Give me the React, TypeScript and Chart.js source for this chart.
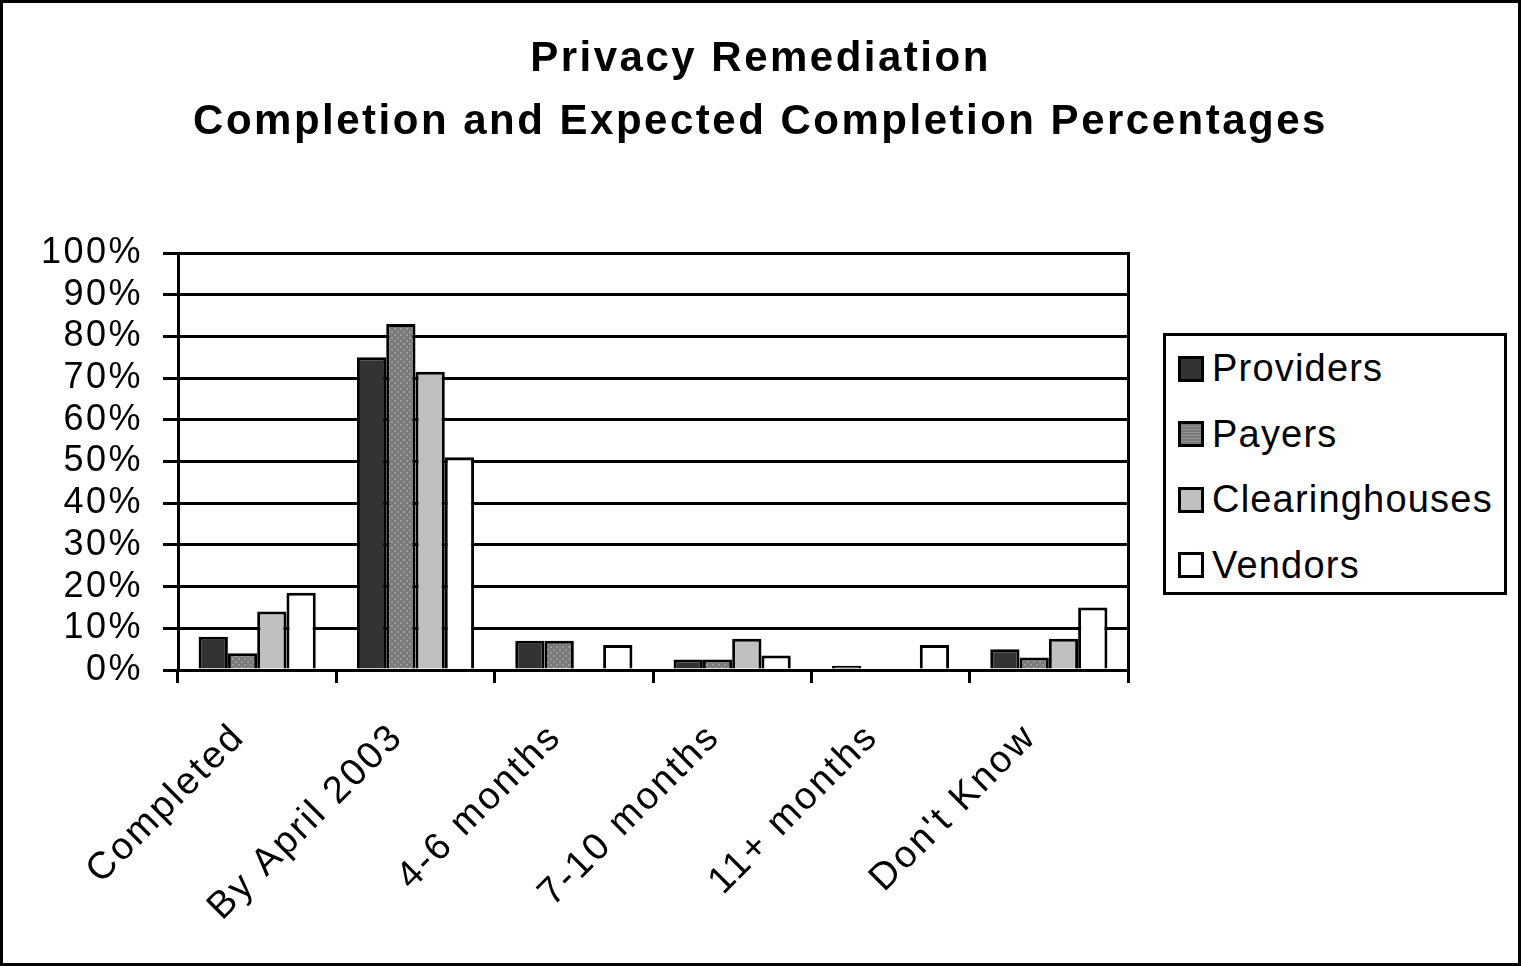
import React, { useEffect, useRef } from "react";
import { Chart, registerables } from "chart.js";

Chart.register(...registerables);

const categories = ["Completed", "By April 2003", "4-6 months", "7-10 months", "11+ months", "Don't Know"];
const providers = [8, 75, 7, 2.5, 1, 5];
const payers = [4, 83, 7, 2.5, 0, 3];
const clearinghouses = [14, 71.5, 0, 7.5, 0, 7.5];
const vendors = [18.5, 51, 6, 3.5, 6, 15];
const seriesNames = ["Providers", "Payers", "Clearinghouses", "Vendors"];
const titleLines = ["Privacy Remediation", "Completion and Expected Completion Percentages"];

const FONT = "'Liberation Sans', Arial, sans-serif";

function makePattern(): CanvasPattern | string {
  const c = document.createElement("canvas");
  c.width = 6;
  c.height = 6;
  const g = c.getContext("2d");
  if (!g) return "#808080";
  g.fillStyle = "#7a7a7a";
  g.fillRect(0, 0, 6, 6);
  g.fillStyle = "#9a9a9a";
  g.fillRect(1, 1, 2, 2);
  g.fillRect(4, 4, 2, 2);
  const p = g.createPattern(c, "repeat");
  return p || "#808080";
}

const spacingPlugin = {
  id: "letterSpacing",
  beforeDraw(chart: any) {
    const ctx: any = chart.ctx;
    ctx.letterSpacing = "2.5px";
  },
  afterDraw(chart: any) {
    const ctx: any = chart.ctx;
    ctx.letterSpacing = "0px";
  },
};

export default function App() {
  const ref = useRef<HTMLCanvasElement>(null);

  useEffect(() => {
    document.body.style.margin = "0";
    const canvas = ref.current;
    if (!canvas) return;
    const pattern = makePattern();
    const fills: any[] = ["#333333", pattern, "#c0c0c0", "#ffffff"];
    const values = [providers, payers, clearinghouses, vendors];
    const chart = new Chart(canvas, {
      type: "bar",
      plugins: [spacingPlugin],
      data: {
        labels: categories,
        datasets: seriesNames.map((name, i) => ({
          label: name,
          data: values[i],
          backgroundColor: fills[i],
          borderColor: "#000",
          borderWidth: 3,
          categoryPercentage: 0.74,
          barPercentage: 1,
          yAxisID: "y",
        })),
      },
      options: {
        responsive: false,
        animation: false,
        layout: { padding: { left: 0, right: 0, top: 0, bottom: 0 } },
        plugins: {
          legend: { display: false },
          tooltip: { enabled: false },
          title: {
            display: true,
            text: titleLines,
            color: "#000",
            font: { family: FONT, size: 42, weight: "bold", lineHeight: 1.5 },
            padding: { top: 28, bottom: 99 },
          },
        },
        scales: {
          x: {
            offset: true,
            grid: {
              offset: true,
              drawOnChartArea: false,
              drawTicks: true,
              tickLength: 13,
              color: "#000",
              lineWidth: 3,
            },
            border: { color: "#000", width: 3 },
            ticks: {
              color: "#000",
              font: { family: FONT, size: 38 },
              maxRotation: 45,
              minRotation: 45,
              autoSkip: false,
              labelOffset: -18,
              padding: 32,
            },
            afterFit: (s: any) => {
              s.height = 296;
            },
          },
          y: {
            min: 0,
            max: 100,
            ticks: {
              stepSize: 10,
              autoSkip: false,
              color: "#000",
              font: { family: FONT, size: 36 },
              padding: 20,
              callback: (v: any) => v + "%",
            },
            grid: { color: "#000", lineWidth: 3, tickLength: 15, drawTicks: true },
            border: { color: "#000", width: 3 },
            afterFit: (s: any) => {
              s.width = 178;
            },
          },
          y2: {
            position: "right",
            min: 0,
            max: 100,
            ticks: { display: false },
            grid: { drawOnChartArea: false, drawTicks: false },
            border: { color: "#000", width: 3 },
            afterFit: (s: any) => {
              s.width = 393;
            },
          },
        },
      },
    });
    return () => chart.destroy();
  }, []);

  const swatchStyle = (i: number): React.CSSProperties => {
    const base: React.CSSProperties = {
      width: 20,
      height: 20,
      border: "3px solid #000",
      display: "inline-block",
      marginRight: 8,
      boxSizing: "content-box",
      flex: "none",
    };
    if (i === 0) base.background = "#333333";
    if (i === 1)
      base.background =
        "repeating-linear-gradient(0deg, #7a7a7a 0 2px, #949494 2px 3px), #7a7a7a";
    if (i === 2) base.background = "#c0c0c0";
    if (i === 3) base.background = "#ffffff";
    return base;
  };

  return (
    <div style={{ position: "absolute", left: 0, top: 0, width: 1521, height: 966 }}>
      <canvas ref={ref} width={1521} height={966} style={{ display: "block" }} />
      <div
        style={{
          position: "absolute",
          left: 0,
          top: 0,
          width: 1521,
          height: 966,
          border: "3px solid #000",
          boxSizing: "border-box",
          pointerEvents: "none",
        }}
      />
      <div
        style={{
          position: "absolute",
          left: 1163,
          top: 333,
          width: 344,
          height: 262,
          border: "3px solid #000",
          boxSizing: "border-box",
          background: "#fff",
          fontFamily: FONT,
          fontSize: 38,
          letterSpacing: "1.2px",
          color: "#000",
          paddingTop: 0,
          paddingLeft: 12,
        }}
      >
        {seriesNames.map((n, i) => (
          <div key={n} style={{ height: 65.5, display: "flex", alignItems: "center" }}>
            <span style={swatchStyle(i)} />
            <span>{n}</span>
          </div>
        ))}
      </div>
    </div>
  );
}
